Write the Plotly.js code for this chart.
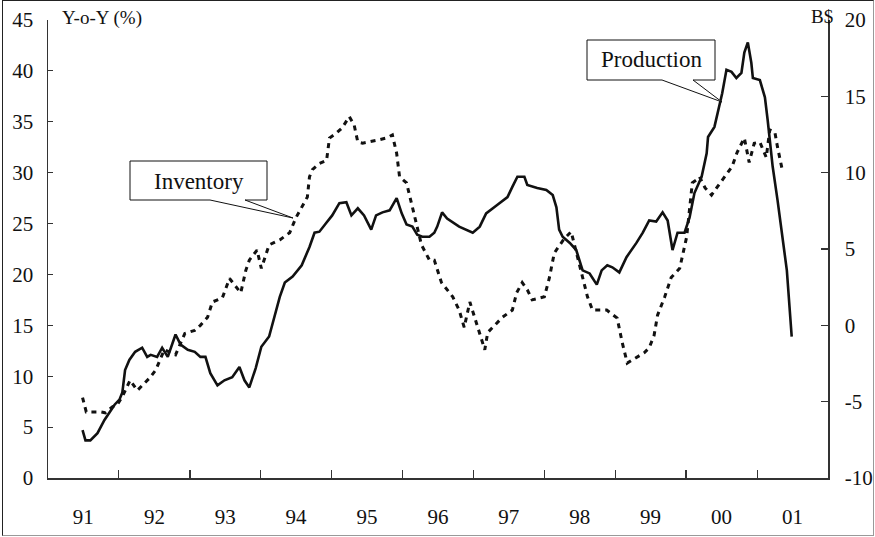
<!DOCTYPE html>
<html>
<head>
<meta charset="utf-8">
<script src="https://cdn.plot.ly/plotly-3.0.1.min.js"></script>
<style>
  html, body { margin: 0; padding: 0; background: #fff; }
  #wrap { position: relative; width: 875px; height: 537px; }
  #chart { width: 875px; height: 537px; }
  #frame { position: absolute; left: 2px; top: 0px; width: 870px; height: 534px;
           border: 1px solid #222; border-bottom-color: #999; border-right-color: #999; pointer-events: none; }
</style>
</head>
<body>
<div id="wrap"><div id="chart"></div><div id="frame"></div></div>
<script>
// ---- data (decimal year, value) ----
const prodYear = [1991.49,1991.53,1991.60,1991.70,1991.80,1991.87,1991.94,1992.01,1992.05,1992.09,
  1992.15,1992.23,1992.33,1992.40,1992.45,1992.54,1992.61,1992.69,1992.80,1992.87,
  1992.97,1993.07,1993.15,1993.22,1993.29,1993.39,1993.49,1993.60,1993.70,1993.77,
  1993.84,1993.93,1994.01,1994.12,1994.17,1994.27,1994.34,1994.45,1994.58,1994.69,
  1994.76,1994.83,1994.93,1995.01,1995.11,1995.21,1995.28,1995.37,1995.46,1995.56,
  1995.63,1995.72,1995.82,1995.92,1995.99,1996.06,1996.14,1996.21,1996.28,1996.38,
  1996.45,1996.49,1996.56,1996.63,1996.80,1996.99,1997.09,1997.18,1997.33,1997.48,
  1997.55,1997.62,1997.72,1997.76,1997.90,1998.03,1998.12,1998.17,1998.21,1998.26,
  1998.36,1998.45,1998.54,1998.64,1998.74,1998.81,1998.89,1998.96,1999.06,1999.16,
  1999.30,1999.39,1999.48,1999.58,1999.67,1999.74,1999.81,1999.88,1999.98,2000.05,
  2000.12,2000.22,2000.29,2000.31,2000.40,2000.47,2000.51,2000.57,2000.64,2000.71,
  2000.78,2000.82,2000.87,2000.92,2000.94,2001.04,2001.11,2001.15,2001.18,2001.22,
  2001.29,2001.36,2001.42,2001.49];
const prodVal = [4.7,3.7,3.7,4.4,5.7,6.4,7.2,7.7,8.4,10.6,
  11.6,12.4,12.8,11.9,12.1,11.9,12.8,11.9,14.1,13.1,
  12.6,12.4,11.9,11.9,10.3,9.1,9.6,9.9,10.9,9.6,
  8.9,10.8,12.9,13.9,15.2,17.8,19.2,19.8,20.9,22.7,
  24.1,24.2,25.1,25.8,27.0,27.1,25.8,26.5,25.8,24.4,
  25.8,26.1,26.3,27.5,26.0,24.9,24.7,23.9,23.7,23.7,
  24.1,24.7,26.1,25.5,24.7,24.1,24.7,26.0,26.8,27.6,
  28.6,29.6,29.6,28.8,28.5,28.3,27.8,26.6,24.4,23.7,
  23.1,22.4,20.4,20.1,19.0,20.4,20.9,20.7,20.2,21.7,
  23.1,24.1,25.3,25.2,26.1,25.3,22.4,24.1,24.1,25.6,
  28.0,29.6,31.9,33.5,34.5,36.5,37.8,40.1,39.9,39.3,
  39.8,41.8,42.8,40.8,39.3,39.1,37.4,35.2,33.2,30.6,
  27.3,23.7,20.4,13.9];

const invYear = [1991.49,1991.54,1991.66,1991.74,1991.81,1991.91,1991.98,1992.05,1992.16,1992.26,
  1992.36,1992.43,1992.52,1992.64,1992.80,1992.93,1993.07,1993.15,1993.25,1993.32,
  1993.46,1993.56,1993.72,1993.79,1993.84,1993.95,1994.01,1994.12,1994.27,1994.41,
  1994.50,1994.58,1994.66,1994.69,1994.73,1994.83,1994.93,1994.97,1995.07,1995.15,
  1995.25,1995.32,1995.37,1995.44,1995.53,1995.65,1995.77,1995.86,1995.92,1995.96,
  1996.06,1996.13,1996.27,1996.38,1996.45,1996.55,1996.71,1996.80,1996.87,1996.95,
  1997.04,1997.16,1997.20,1997.33,1997.41,1997.55,1997.61,1997.69,1997.76,1997.83,
  1998.00,1998.07,1998.14,1998.19,1998.28,1998.38,1998.50,1998.61,1998.68,1998.82,
  1998.88,1999.03,1999.10,1999.17,1999.30,1999.41,1999.48,1999.55,1999.60,1999.70,
  1999.79,1999.91,2000.01,2000.09,2000.15,2000.19,2000.27,2000.36,2000.44,2000.51,
  2000.58,2000.65,2000.72,2000.82,2000.89,2000.96,2001.04,2001.13,2001.18,2001.25,
  2001.29,2001.35];
const invVal = [-4.73,-5.67,-5.67,-5.67,-5.73,-5.33,-5.2,-4.67,-3.6,-4.27,
  -3.8,-3.47,-2.93,-1.6,-1.93,-0.53,-0.33,0.0,0.53,1.53,
  1.8,3.07,2.13,3.6,4.27,4.93,3.73,5.27,5.6,6.07,
  7.07,7.73,8.4,9.73,10.2,10.6,10.8,12.27,12.6,12.93,
  13.67,13.13,12.0,11.93,12.0,12.13,12.27,12.47,11.27,9.73,
  9.33,8.0,5.27,4.27,4.27,2.8,1.87,1.0,-0.13,1.53,
  0.13,-1.6,-0.47,0.13,0.53,1.0,2.13,2.8,2.33,1.67,
  1.87,3.07,4.73,5.07,5.67,6.13,4.0,1.87,1.0,1.0,
  1.0,0.47,-1.13,-2.47,-2.13,-1.8,-1.47,-0.67,0.67,1.87,
  3.13,3.73,5.8,9.33,9.53,9.73,9.0,8.53,9.07,9.53,
  10.0,10.4,11.33,12.27,10.67,11.93,12.0,11.0,12.8,12.67,
  11.67,10.33];

const yearStarts = [1991,1992,1993,1994,1995,1996,1997,1998,1999,2000,2001,2002];
const yearLabels = ['91','92','93','94','95','96','97','98','99','00','01'];
const leftTicks = [0,5,10,15,20,25,30,35,40,45];
const rightTicks = [-10,-5,0,5,10,15,20];
const rightLabels = ['-10','-5','0','5','10','15','20'];

function toDate(y){
  const yr = Math.floor(y);
  const s = Date.UTC(yr,0,1), e = Date.UTC(yr+1,0,1);
  return new Date(s + (y-yr)*(e-s)).toISOString().slice(0,10);
}
const tickDates = yearStarts.map(y => y + '-01-01');
const labelDates = yearLabels.map((_, i) => toDate(yearStarts[i] + 0.5));
const xRange = [tickDates[0], tickDates[tickDates.length-1]];

// pixel -> paper helpers for callouts
const L = 48, R = 47, T = 20, B = 59, W = 875, H = 537;
const pw = W - L - R, ph = H - T - B;
const px = x => (x - L) / pw;
const py = y => (H - B - y) / ph;
function callout(x0, y0, x1, y1, b0, b1, tx, ty){
  return 'M' + px(x0) + ',' + py(y0) + ' L' + px(x1) + ',' + py(y0) + ' L' + px(x1) + ',' + py(y1) +
    ' L' + px(b1) + ',' + py(y1) + ' L' + px(tx) + ',' + py(ty) + ' L' + px(b0) + ',' + py(y1) +
    ' L' + px(x0) + ',' + py(y1) + ' Z';
}

const serif = 'Liberation Serif, Times New Roman, serif';

const traces = [
  { x: prodYear.map(toDate), y: prodVal, type: 'scatter', mode: 'lines', name: 'Production',
    line: { color: '#111', width: 2.6 }, xaxis: 'x', yaxis: 'y' },
  { x: invYear.map(toDate), y: invVal, type: 'scatter', mode: 'lines', name: 'Inventory',
    line: { color: '#111', width: 3, dash: '5px,5px' }, xaxis: 'x', yaxis: 'y2' },
  // carrier for the year-label axis (invisible)
  { x: labelDates, y: yearLabels.map(() => 1), type: 'scatter', mode: 'markers',
    marker: { opacity: 0, size: 1 }, xaxis: 'x2', yaxis: 'y', hoverinfo: 'skip', showlegend: false }
];

const layout = {
  width: W, height: H,
  margin: { l: L, r: R, t: T, b: B, pad: 0 },
  paper_bgcolor: '#fff', plot_bgcolor: '#fff',
  showlegend: false,
  font: { family: serif, color: '#111', size: 21 },
  xaxis: {
    type: 'date', range: xRange, tickvals: tickDates, showticklabels: false,
    ticks: 'inside', ticklen: 8, tickwidth: 1.2, tickcolor: '#333',
    showline: true, linecolor: '#333', linewidth: 1.5, showgrid: false, zeroline: false
  },
  xaxis2: {
    type: 'date', range: xRange, overlaying: 'x', anchor: 'y', side: 'bottom',
    tickvals: labelDates, ticktext: yearLabels, ticks: '', ticklabelstandoff: 24,
    showline: false, showgrid: false, zeroline: false,
    tickfont: { family: serif, size: 21, color: '#111' }
  },
  yaxis: {
    range: [0, 45], tickvals: leftTicks, ticks: 'inside', ticklen: 5, tickwidth: 1.2, tickcolor: '#333',
    showline: true, linecolor: '#333', linewidth: 1.5, showgrid: false, zeroline: false,
    ticklabelstandoff: 9, tickfont: { family: serif, size: 21, color: '#111' }
  },
  yaxis2: {
    range: [-10, 20], tickvals: rightTicks, ticktext: rightLabels, overlaying: 'y', side: 'right', anchor: 'x',
    ticks: 'inside', ticklen: 7, tickwidth: 1.2, tickcolor: '#333',
    showline: true, linecolor: '#333', linewidth: 1.5, showgrid: false, zeroline: false,
    ticklabelstandoff: 11, tickfont: { family: serif, size: 21, color: '#111' }
  },
  shapes: [
    { type: 'path', xref: 'paper', yref: 'paper', path: callout(130, 161, 267, 200, 210, 245, 293, 218),
      fillcolor: '#fff', line: { color: '#111', width: 1 } },
    { type: 'path', xref: 'paper', yref: 'paper', path: callout(587, 40, 715, 80, 662, 693, 722, 102),
      fillcolor: '#fff', line: { color: '#111', width: 1 } }
  ],
  annotations: [
    { xref: 'paper', yref: 'paper', x: px(198.5), y: py(181), text: 'Inventory', showarrow: false,
      xanchor: 'center', yanchor: 'middle', font: { family: serif, size: 23, color: '#111' } },
    { xref: 'paper', yref: 'paper', x: px(651), y: py(60), text: 'Production', showarrow: false,
      xanchor: 'center', yanchor: 'middle', font: { family: serif, size: 23, color: '#111' } },
    { xref: 'paper', yref: 'paper', x: px(60), y: py(18), text: 'Y-o-Y (%)', showarrow: false,
      xanchor: 'left', yanchor: 'middle', font: { family: serif, size: 19, color: '#111' } },
    { xref: 'paper', yref: 'paper', x: px(835), y: py(17), text: 'B$', showarrow: false,
      xanchor: 'right', yanchor: 'middle', font: { family: serif, size: 19, color: '#111' } }
  ]
};

Plotly.newPlot('chart', traces, layout, { staticPlot: true, displayModeBar: false });
</script>
</body>
</html>
